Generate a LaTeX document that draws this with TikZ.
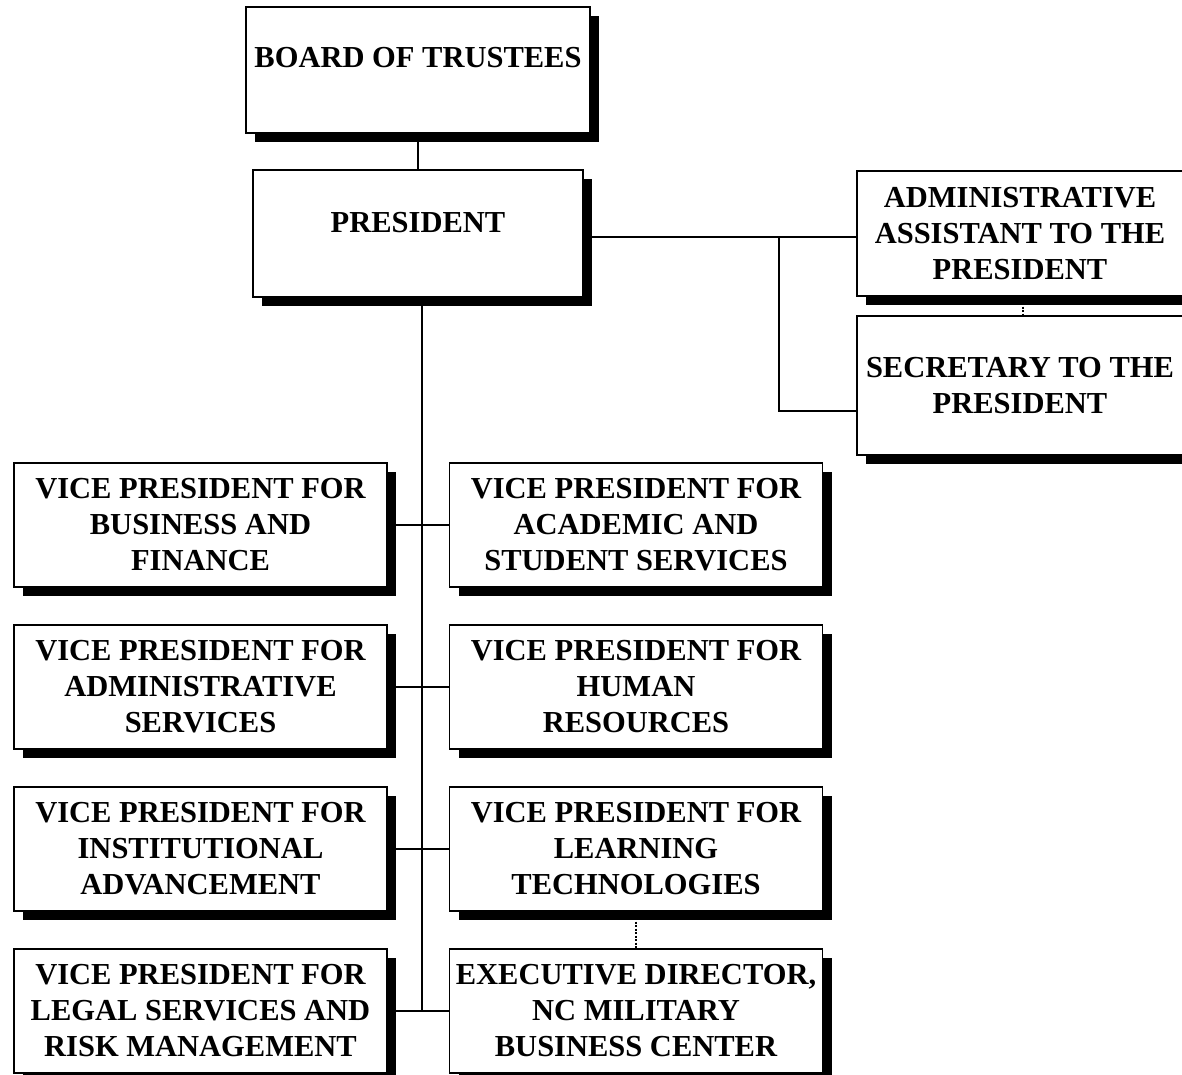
\documentclass[tikz,border=0pt]{standalone}
\usepackage{fontspec}
\setmainfont{Liberation Serif}
\usetikzlibrary{positioning,shadows}

\begin{document}
\begin{tikzpicture}[x=1pt,y=1pt,node distance=38pt,
    office/.style={draw,line width=1.5pt,fill=white,rectangle,align=center,
      inner sep=0pt,outer sep=0pt,
      font=\fontsize{30.5}{36}\selectfont\bfseries,
      drop shadow={shadow xshift=9pt,shadow yshift=-9pt,fill=black,opacity=1}},
    vp/.style={office,minimum width=373pt,minimum height=124pt},
    link/.style={line width=2pt},
    dotlink/.style={line width=2pt,dash pattern=on 2pt off 1.5pt}]
    \useasboundingbox (0,0) rectangle (1182,-1075);

    \node[office,minimum width=344pt,minimum height=126pt,text depth=26pt] (board)     at (418,-70)    {BOARD OF TRUSTEES};
    \node[office,minimum width=330pt,minimum height=127pt,text depth=23pt] (president) at (418,-233.5) {PRESIDENT};
    \node[office,minimum width=326pt,minimum height=125pt] (admin)     at (1020,-233.5) {ADMINISTRATIVE\\ASSISTANT TO THE\\PRESIDENT};
    \node[office,minimum width=326pt,minimum height=139pt] (secretary) at (1020,-385.5) {SECRETARY TO THE\\PRESIDENT};

    \node[vp] (vpbus)   at (200.5,-525)         {VICE PRESIDENT FOR\\BUSINESS AND\\FINANCE};
    \node[vp] (vpacad)  at (636,-525)           {VICE PRESIDENT FOR\\ACADEMIC AND\\STUDENT SERVICES};
    \node[vp] (vpadm)   [below=of vpbus]        {VICE PRESIDENT FOR\\ADMINISTRATIVE\\SERVICES};
    \node[vp] (vphr)    [below=of vpacad]       {VICE PRESIDENT FOR\\HUMAN\\RESOURCES};
    \node[vp] (vpinst)  [below=of vpadm]        {VICE PRESIDENT FOR\\INSTITUTIONAL\\ADVANCEMENT};
    \node[vp] (vplt)    [below=of vphr]         {VICE PRESIDENT FOR\\LEARNING\\TECHNOLOGIES};
    \node[vp] (vplegal) [below=of vpinst]       {VICE PRESIDENT FOR\\LEGAL SERVICES AND\\RISK MANAGEMENT};
    \node[vp] (execdir) [below=of vplt]         {EXECUTIVE DIRECTOR,\\NC MILITARY\\BUSINESS CENTER};

    \coordinate (trunk) at ([xshift=4pt]president.south);
    \coordinate (split) at (779,-237);

    \path[link] (board) edge (president);
    \path[link] (trunk) edge (trunk |- vplegal);
    \path[link] ([yshift=-3.5pt]president.east) edge ([yshift=-3.5pt]admin.west);
    \draw[link] (split) |- ([yshift=-25.5pt]secretary.west);
    \path[link] (vpbus) edge (vpacad);
    \path[link] (vpadm) edge (vphr);
    \path[link] (vpinst) edge (vplt);
    \path[link] (vplegal) edge (execdir);
    \path[dotlink] ([xshift=3pt]admin.south) edge ([xshift=3pt]secretary.north);
    \path[dotlink] (vplt.south) edge (execdir.north);

\end{tikzpicture}
\end{document}
